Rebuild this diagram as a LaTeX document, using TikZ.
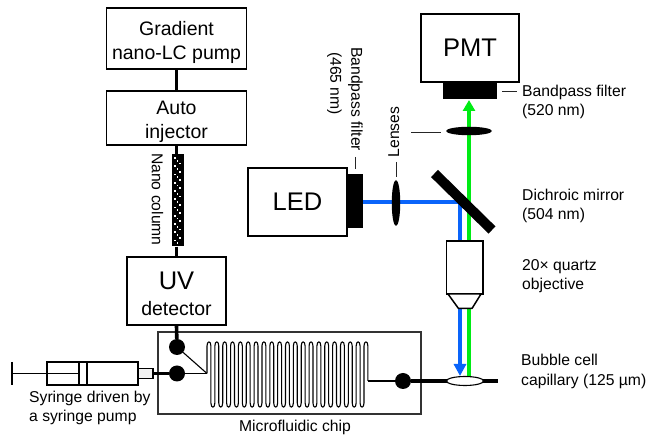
\documentclass[tikz,border=0pt]{standalone}
\usepackage{fontspec}
\setmainfont{Liberation Sans}
\usetikzlibrary{arrows.meta,shapes.geometric}
\definecolor{beamblue}{RGB}{10,100,250}
\definecolor{beamgreen}{RGB}{0,235,20}
\newcommand{\lowered}[2][-8.7pt]{\raisebox{#1}[0pt][0pt]{\begin{tabular}{@{}c@{}}#2\end{tabular}}}
\tikzset{
  x=1pt,y=-1pt,
  box/.style={draw=black,line width=1.5pt,fill=white,inner sep=0pt,align=center,font=\fontsize{19.5}{24.5}\selectfont},
  bigbox/.style={box,font=\fontsize{25.5}{30}\selectfont},
  solidblock/.style={fill=black,draw=none,inner sep=0pt},
  lens/.style={ellipse,fill=black,draw=none,inner sep=0pt},
  label/.style={font=\fontsize{15.7}{19.3}\selectfont,align=left,inner sep=0pt},
  pipe/.style={line width=3.6pt,line cap=butt},
  thin wire/.style={line width=1.1pt},
  dot/.style={circle,fill=black,draw=none,inner sep=0pt,minimum size=16pt},
  leader/.style={line width=0.9pt,draw=black!85},
  bluebeam/.style={draw=beamblue,line width=3.4pt},
  greenbeam/.style={draw=beamgreen,line width=3.4pt},
}
\begin{document}
\begin{tikzpicture}
\useasboundingbox (0,0) rectangle (649,435);
% chip
\node[draw=black!80,line width=1.2pt,inner sep=0pt,minimum width=263pt,minimum height=82pt] (chip) at (289.5,373) {};
% left column
\node[box,minimum width=140pt,minimum height=61pt] (grad) at (176.5,38.5) {\lowered[-9.5pt]{Gradient\\nano-LC pump}};
\node[box,minimum width=140pt,minimum height=54pt] (inj) at (176.5,118) {\lowered{Auto\\injector}};
\node[box,minimum width=99pt,minimum height=68pt] (uv) at (176.5,291) {\lowered[-11.5pt]{{\fontsize{25.5}{25}\selectfont UV}\\[1.5pt]detector}};
\node[solidblock,minimum width=12pt,minimum height=92pt] (col) at (177.5,200.5) {};
\foreach \i in {0,...,31}{
  \fill[white] ({174.0+mod(\i,3)*2.5},{157.2+\i*2.75}) rectangle +(1.7,1.6);
}
\draw[pipe] (inj.south) -- (inj.south |- col.north);
\draw[pipe] (uv.north |- col.south) -- (uv.north);
\draw[pipe] (grad.south) -- (inj.north);
\node[dot] (dota) at (177,347) {};
\node[dot] (dotb) at (177,373.5) {};
\node[dot] (dotc) at (403,381) {};
\draw[pipe] (uv.south) -- (dota);
% serpentine
\coordinate (serp) at (207,373.5);
\coordinate (serpend) at (367.9,381);
\draw[thin wire,line join=round] (serp)
  foreach \m in {0,...,19} {
    -- ({207+\m*7.85},346)
    .. controls ({207+\m*7.85},340.5) and ({207+\m*7.85+3.925},340.5) .. ({207+\m*7.85+3.925},346)
    -- ({207+\m*7.85+3.925},403)
    .. controls ({207+\m*7.85+3.925},408.5) and ({207+\m*7.85+7.85},408.5) .. ({207+\m*7.85+7.85},403)
  }
  -- ({207+20*7.85},346)
  .. controls ({207+20*7.85},340.5) and (367.9,340.5) .. (367.9,346)
  -- (serpend);
\draw[thin wire] (dota) -- (serp);
\draw[thin wire] (dotb) -- (serp);
\draw[thin wire] (serpend) -- (dotc);
% syringe
\node[draw=black,line width=1.4pt,inner sep=0pt,minimum width=91pt,minimum height=23pt] (barrel) at (92.5,373.5) {};
\node[draw=black,line width=1.4pt,fill=black!5,inner sep=0pt,minimum width=15pt,minimum height=9.5pt] (tip) at (145.5,373.5) {};
\node[draw=black,line width=1.4pt,inner sep=0pt,minimum width=8pt,minimum height=23pt] (piston) at (83,373.5) {};
\coordinate (handle) at (12,373.5);
\draw[line width=1.4pt] (handle) -- (piston.west);
\draw[line width=1.4pt] (12,362) -- (12,385);
\draw[pipe] (tip.east) -- (dotb);
% beams
\coordinate (fold) at (460,202);
\coordinate (blueend) at (460,376);
\coordinate (greenend) at (469,100);
\coordinate (greenstart) at (469,378);
\node[solidblock,minimum width=54pt,minimum height=17pt] (pmtf) at (470,90.5) {};
\node[solidblock,minimum width=17pt,minimum height=54pt] (ledf) at (354.5,201) {};
\draw[greenbeam,-{Triangle[length=11pt,width=12pt]}] (greenstart) -- (greenend);
\draw[bluebeam] (ledf.east |- fold) -- (fold);
\draw[bluebeam,-{Triangle[length=12pt,width=12pt]},shorten >=0pt] (fold) -- (blueend);
% PMT, LED
\node[bigbox,minimum width=98pt,minimum height=68pt] (pmt) at (470,48) {PMT};
\node[bigbox,minimum width=99pt,minimum height=68pt] (led) at (297.5,202) {LED};
\node[lens,minimum width=46pt,minimum height=8.5pt] (lensa) at (469,131) {};
\node[lens,minimum width=8.5pt,minimum height=46pt] (lensb) at (396,203) {};
% mirror
\draw[line width=10pt] (434.5,173.5) coordinate (ma) -- (492,230) coordinate (mb);
% objective
\node[draw=black,fill=white,line width=1.5pt,inner sep=0pt,minimum width=36.5pt,minimum height=53pt] (obj) at (464.5,267.5) {};
\draw[line width=1.5pt,fill=white,line join=round] (448,294) -- (458.5,308.5) -- (472,308.5) -- (481,294) -- cycle;
% capillary
\coordinate (capend) at (498,381);
\draw[pipe,line width=3.8pt] (dotc) -- (capend);
\node[ellipse,draw=black,fill=white,line width=1.1pt,inner sep=0pt,minimum width=37pt,minimum height=9pt] (bubble) at (465,381) {};
% labels
\node[label,rotate=-90,anchor=north west] (nc) at (163.5,153) {Nano column};
\node[label,rotate=-90,anchor=north west] (bf) at (363,47) {Bandpass filter};
\node[label,rotate=-90,anchor=north west] (bfn) at (342,52) {(465 nm)};
\node[label,rotate=90,anchor=north west] (lenslab) at (388,157.5) {Lenses};
\coordinate (lea) at (355,157); \coordinate (leb) at (355,169);
\draw[leader] (lea) -- (leb);
\coordinate (lca) at (396,162); \coordinate (lcb) at (396,177);
\draw[leader] (lca) -- (lcb);
\coordinate (lda) at (411,132); \coordinate (ldb) at (441,132);
\draw[leader] (lda) -- (ldb);
\coordinate (lga) at (502,91); \coordinate (lgb) at (517,91);
\draw[leader] (lga) -- (lgb);
\node[label,anchor=north west] (l1) at (522,84.5) {Bandpass filter\\(520 nm)};
\node[label,anchor=north west] (l2) at (522,188.7) {Dichroic mirror\\(504 nm)};
\node[label,anchor=north west] (l3) at (522,259) {20× quartz\\objective};
\node[label,anchor=north west] (l4) at (521,354.3) {Bubble cell\\capillary (125 µm)};
\node[label,anchor=north west] (l5) at (29,391) {Syringe driven by\\a syringe pump};
\node[label,anchor=center] (l6) at (295,427) {Microfluidic chip};
\end{tikzpicture}
\end{document}
